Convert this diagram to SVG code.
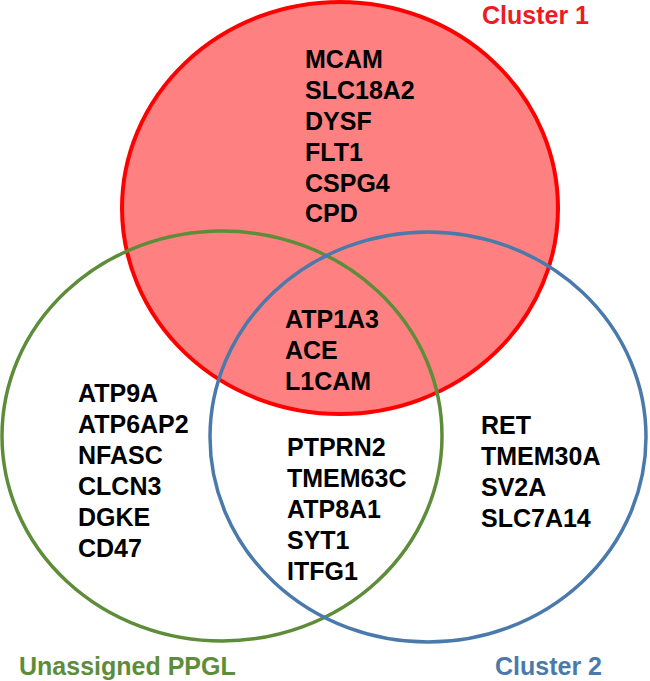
<svg xmlns="http://www.w3.org/2000/svg" width="650" height="681" viewBox="0 0 650 681">
<style>
text{font-family:"Liberation Sans",Arial,sans-serif;font-weight:bold;font-size:25px;fill:#000}
.c1{fill:#ED1C24}
.c2{fill:#4A7AAB}
.c3{fill:#5E8D3A}
.set{fill:none;stroke-width:3.5}
</style>
<rect width="650" height="681" fill="#fff"/>
<g id="set-cluster1">
<ellipse cx="340" cy="208" rx="218" ry="206" fill="#FF8080" stroke="#FF0000" stroke-width="4"/>
</g>
<g id="set-unassigned">
<ellipse class="set" cx="222" cy="436" rx="220" ry="205" stroke="#5E8D3A"/>
</g>
<g id="set-cluster2">
<ellipse class="set" cx="428" cy="437" rx="218" ry="205" stroke="#4A7AAB"/>
</g>
<g id="labels">
<text class="c1" x="482" y="24">Cluster 1</text>
<text class="c3" x="19" y="675">Unassigned PPGL</text>
<text class="c2" x="495" y="675">Cluster 2</text>
</g>
<g id="genes-cluster1">
<text x="305" y="68">MCAM</text>
<text x="305" y="99">SLC18A2</text>
<text x="305" y="130">DYSF</text>
<text x="305" y="161">FLT1</text>
<text x="305" y="192">CSPG4</text>
<text x="305" y="222">CPD</text>
</g>
<g id="genes-all">
<text x="285" y="328">ATP1A3</text>
<text x="285" y="359">ACE</text>
<text x="285" y="390">L1CAM</text>
</g>
<g id="genes-unassigned">
<text x="78" y="402">ATP9A</text>
<text x="78" y="433">ATP6AP2</text>
<text x="78" y="464">NFASC</text>
<text x="78" y="495">CLCN3</text>
<text x="78" y="526">DGKE</text>
<text x="78" y="557">CD47</text>
</g>
<g id="genes-unassigned-cluster2">
<text x="287" y="456">PTPRN2</text>
<text x="287" y="487">TMEM63C</text>
<text x="287" y="518">ATP8A1</text>
<text x="287" y="549">SYT1</text>
<text x="287" y="580">ITFG1</text>
</g>
<g id="genes-cluster2">
<text x="481" y="434">RET</text>
<text x="481" y="465">TMEM30A</text>
<text x="481" y="496">SV2A</text>
<text x="481" y="527">SLC7A14</text>
</g>
</svg>
